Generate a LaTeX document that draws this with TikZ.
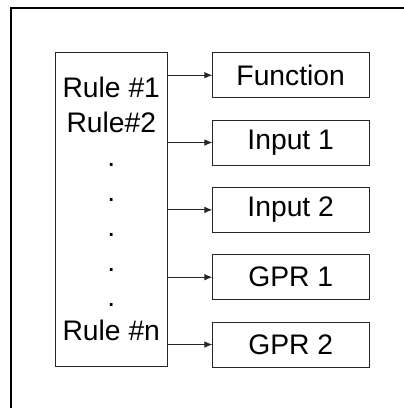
\documentclass[tikz,border=0pt]{standalone}
\usepackage{fontspec}
\setmainfont{Liberation Sans}
\usepackage{tikz}
\usetikzlibrary{arrows.meta,positioning}

\begin{document}
\begin{tikzpicture}[
    x=0.75pt, y=-0.75pt,
    font=\fontsize{21.2}{26.1}\selectfont,
    target/.style={rectangle, draw=black!85, line width=0.8pt, minimum width=117.5pt, minimum height=33.75pt, inner sep=0pt, outer sep=0pt},
    arrow/.style={-{Latex[length=6pt,width=5pt]}, line width=0.8pt, black!85},
]
\useasboundingbox (0,0) rectangle (404,408);

% outer frame (cut off at right and bottom)
\draw[line width=1.5pt] (11,420) -- (11,8) -- (420,8);

% rule list
\node[rectangle, draw=black!85, line width=0.8pt, minimum width=84pt, minimum height=235pt, outer sep=0pt] (rules) at (111.7,209.4) {};
\node[align=center, inner sep=0pt, anchor=north] (rulelist) at (111.3,76.5) {Rule \#1\\Rule\#2\\.\\.\\.\\.\\.\\Rule \#n};

% targets
\node[target] (fn) at (290.7,75.2) {Function};
\node[target, below=16.75pt of fn] (in1) {Input 1};
\node[target, below=16.75pt of in1] (in2) {Input 2};
\node[target, below=16.75pt of in2] (gpr1) {GPR 1};
\node[target, below=16.75pt of gpr1] (gpr2) {GPR 2};

\foreach \t in {fn,in1,in2,gpr1,gpr2}
    \draw[arrow] (rules.east |- \t.west) -- (\t.west);

\end{tikzpicture}
\end{document}
